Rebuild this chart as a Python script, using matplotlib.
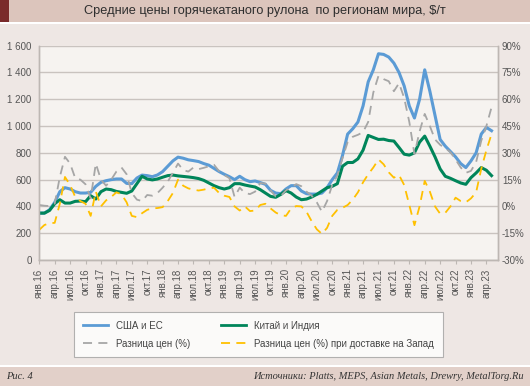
import matplotlib
matplotlib.use('Agg')
import matplotlib.pyplot as plt
from matplotlib.patches import Rectangle
from matplotlib.lines import Line2D

plt.rcParams['font.family'] = ['Liberation Sans', 'DejaVu Sans']

# monthly data, янв.16 .. май.23
usa_eu = [350, 350, 375, 430, 510, 540, 530, 510, 500, 500, 505, 550, 580, 592, 600, 605, 605, 572,
          570, 612, 634, 630, 622, 635, 660, 700, 740, 768, 760, 748, 742, 735, 720, 708, 684, 660,
          640, 622, 600, 625, 600, 585, 590, 578, 565, 520, 500, 495, 530, 555, 555, 515, 495, 492,
          492, 500, 540, 600, 650, 780, 940, 980, 1030, 1150, 1330, 1420, 1540, 1535, 1515, 1470,
          1400, 1300, 1150, 1060, 1200, 1420, 1260, 1080, 900, 850, 810, 770, 720, 690, 740, 800,
          940, 990, 965]
china_india = [350, 350, 370, 420, 450, 425, 425, 438, 440, 435, 480, 455, 510, 530, 525, 512, 505,
               498, 515, 570, 625, 605, 598, 605, 618, 630, 634, 628, 624, 620, 615, 608, 595, 575,
               555, 540, 530, 540, 570, 570, 560, 552, 545, 525, 500, 475, 468, 490, 518, 500, 470,
               450, 455, 470, 490, 515, 540, 550, 570, 700, 728, 728, 755, 820, 930, 915, 900, 902,
               892, 888, 840, 790, 783, 800, 880, 925, 850, 770, 680, 625, 610, 592, 575, 565, 615,
               650, 690, 670, 630]
diff_pct = [0.8, 0.4, 0.2, 1.5, 16.5, 27.8, 24, 15.8, 15, 12.4, 4.5, 24, 15, 11.6, 15, 19.5, 21.8,
            18, 7.5, 3.8, 3, 6.4, 6, 7.5, 10.5, 13.9, 18.8, 24, 20.4, 19.5, 21.8, 20.9, 21.6, 22.5,
            23.3, 19.7, 17.6, 15.8, 5.3, 10.5, 7.5, 6.9, 8.3, 13.1, 12.8, 9, 5.6, 5.9, 9, 10.5, 12.5,
            11.3, 8.3, 6, 2.3, -3, 3, 12, 17.3, 27, 36, 39, 40.1, 41.6, 47.3, 63.8, 73.1, 71.3, 70.1,
            64.5, 69, 60.8, 47.3, 29.3, 42, 51.8, 45, 37.5, 34.5, 32.6, 30.4, 26.3, 21.8, 18.8, 19.9,
            24.8, 36.8, 45, 55.5]
diff_west_pct = [-13.1, -10.4, -9.4, -9.2, 1.5, 16.5, 12, 5.3, 3, 1.5, -5.3, 8.3, 0, 3.4, 5.3, 7.9,
                 6.8, 2.3, -5.3, -6, -3.8, -1.9, -1.1, -0.9, -0.4, 3, 7.5, 15, 11.6, 10.1, 9.4, 8.9,
                 9.4, 10.1, 10.5, 7.5, 6, 5.3, 0, -2.3, 0, -2.6, -2.3, 0.8, 1.5, -1.1, -3.4, -4.9,
                 -5.3, -1.1, 0.2, 0, -3, -8.3, -12.8, -15.4, -12, -5.3, -1.9, -0.8, 0.8, 3.8, 7.9,
                 13.5, 18, 21.8, 26.3, 23.6, 19.1, 16.1, 17.6, 12, 0.8, -10.5, 0, 14.3, 8.3, 0, -4.1,
                 -3.6, 0, 4.9, 3, 2.3, 4.5, 7.9, 21, 31.5, 40.5]

months = ['янв', 'апр', 'июл', 'окт']
tick_labels = [f'{months[(i // 3) % 4]}.{16 + i // 12}' for i in range(0, 88, 3)]
left_ticks = [0, 200, 400, 600, 800, 1000, 1200, 1400, 1600]
left_labels = ['0', '200', '400', '600', '800', '1 000', '1 200', '1 400', '1 600']
right_ticks = [-30, -15, 0, 15, 30, 45, 60, 75, 90]

x = list(range(len(usa_eu)))

fig = plt.figure(figsize=(5.3, 3.86), dpi=100)
fig.patch.set_facecolor('#EEE7E4')

# title band and footer band
fig.add_artist(Rectangle((0, 1 - 22 / 386), 1, 22 / 386, transform=fig.transFigure,
                         facecolor='#DCC5BC', edgecolor='none'))
fig.add_artist(Rectangle((0, 1 - 22 / 386), 9 / 530, 22 / 386, transform=fig.transFigure,
                         facecolor='#7A2B2B', edgecolor='none'))
fig.add_artist(Rectangle((0, 1 - 24 / 386), 1, 2 / 386, transform=fig.transFigure,
                         facecolor='white', edgecolor='none'))
fig.add_artist(Rectangle((0, 0), 1, 19 / 386, transform=fig.transFigure,
                         facecolor='#E2D0C9', edgecolor='none'))
fig.add_artist(Rectangle((0, 19 / 386), 1, 2 / 386, transform=fig.transFigure,
                         facecolor='white', edgecolor='none'))
fig.text(0.5, 1 - 11 / 386, 'Средние цены горячекатаного рулона  по регионам мира, $/т',
         ha='center', va='center', fontsize=9.2, color='#2E2E2E')
fig.text(6 / 530, 9.5 / 386, 'Рис. 4', ha='left', va='center', fontsize=7.5,
         family='Liberation Serif', style='italic', color='#333333')
fig.text(524 / 530, 9.5 / 386, 'Источники: Platts, MEPS, Asian Metals, Drewry, MetalTorg.Ru',
         ha='right', va='center', fontsize=7.5, family='Liberation Serif', style='italic',
         color='#333333')

ax = fig.add_axes([38.5 / 530, 1 - 260 / 386, (497.7 - 38.5) / 530, (260 - 45.7) / 386])
ax.set_facecolor('#F6F3F0')
ax2 = ax.twinx()

ax.plot(x, usa_eu, color='#5B9BD5', lw=2.2, zorder=4)
ax.plot(x, china_india, color='#00855A', lw=2.2, zorder=5)
ax2.plot(x, diff_pct, color='#A6A6A6', lw=1.3, dashes=(5, 3.5))
ax2.plot(x, diff_west_pct, color='#FFC000', lw=1.3, dashes=(5, 3.5))

ax.set_ylim(0, 1600)
ax2.set_ylim(-30, 90)
ax.set_xlim(-0.15, 89.2)
ax.set_yticks(left_ticks)
ax.set_yticklabels(left_labels)
ax2.set_yticks(right_ticks)
ax2.set_yticklabels([f'{t}%' for t in right_ticks])
ax.set_xticks(range(0, 88, 3))
ax.set_xticklabels(tick_labels, rotation=90)

ax.grid(axis='y', color='#C9C3BF', lw=1)
ax.set_axisbelow(True)
for a in (ax, ax2):
    a.spines['top'].set_visible(False)
    for s in ('left', 'right', 'bottom'):
        a.spines[s].set_color('#BDB7B3')
        a.spines[s].set_linewidth(1)
ax.tick_params(axis='y', length=0, labelsize=7, labelcolor='#555555', pad=5)
ax2.tick_params(axis='y', length=0, labelsize=7, labelcolor='#555555', pad=3)
ax.tick_params(axis='x', length=3, color='#BDB7B3', labelsize=7, labelcolor='#555555', pad=3)

handles = [Line2D([], [], color='#5B9BD5', lw=2),
           Line2D([], [], color='#A6A6A6', lw=1.3, dashes=(5, 3.5)),
           Line2D([], [], color='#00855A', lw=2),
           Line2D([], [], color='#FFC000', lw=1.3, dashes=(5, 3.5))]
labels = ['США и ЕС', 'Разница цен (%)', 'Китай и Индия', 'Разница цен (%) при доставке на Запад']
leg = fig.legend(handles, labels, loc='upper left', ncol=2,
                 bbox_to_anchor=(74 / 530, 1 - 312 / 386), fontsize=7, frameon=True,
                 fancybox=False, handlelength=2.6, handletextpad=0.8, columnspacing=3.2,
                 borderpad=0.9, labelspacing=0.8, borderaxespad=0)
leg.get_frame().set_facecolor('white')
leg.get_frame().set_edgecolor('#A0A0A0')
leg.get_frame().set_linewidth(0.8)
for t in leg.get_texts():
    t.set_color('#444444')

fig.savefig('out.png', dpi=100, facecolor=fig.get_facecolor())
